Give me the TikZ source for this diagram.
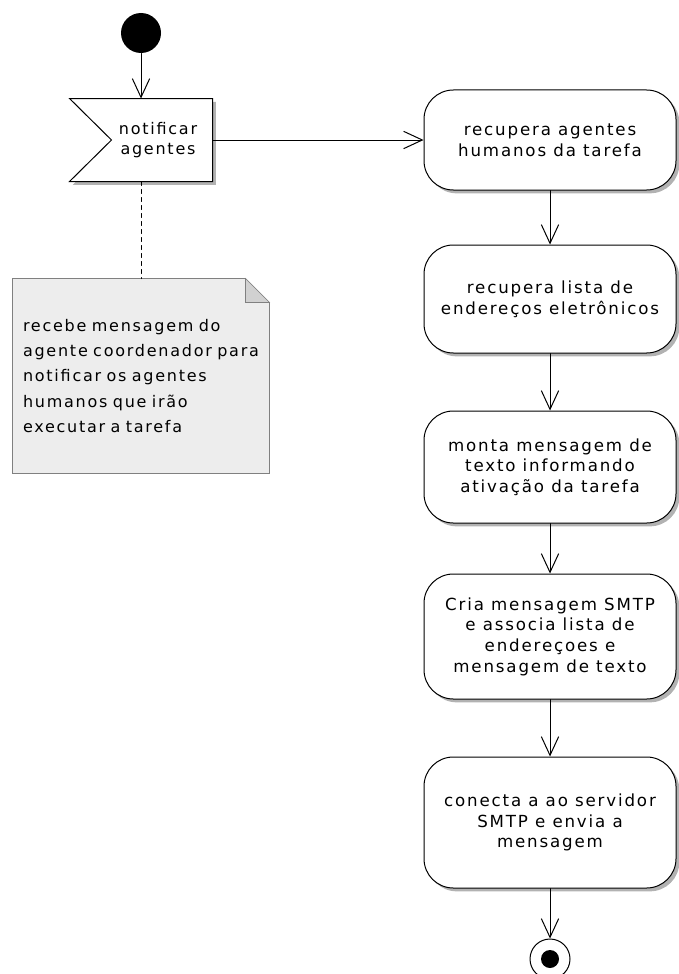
\documentclass[tikz,border=0pt]{standalone}
\usepackage{fontspec}
\setmainfont{DejaVu Sans}[LetterSpace=11]
\usetikzlibrary{arrows.meta,shadows,calc,backgrounds}

\begin{document}
\begin{tikzpicture}[x=0.75pt,y=-0.75pt,>={Straight Barb[length=14pt,width=13pt]},
  font=\fontsize{12.5}{15.5}\selectfont,line width=0.75pt,line cap=round,
  shade/.style={drop shadow={shadow xshift=2.5pt,shadow yshift=-2.5pt,fill=black!30,opacity=1}},
  action/.style={draw,fill=white,rounded corners=22pt,minimum width=189pt,align=center,shade},
  start/.style={circle,fill=black,minimum size=30pt,inner sep=0pt},
  stop/.style={circle,draw,fill=white,minimum size=30pt,inner sep=0pt},
  flag/.style={minimum width=106.5pt,minimum height=61.5pt,inner sep=0pt},
  notetext/.style={minimum width=192pt,minimum height=145.5pt,text width=177pt,
    inner sep=7.5pt,align=left,font=\fontsize{12}{19}\selectfont}]
\useasboundingbox (0,0) rectangle (678,974);
% start and signal
\node[start] (init) at (141,33) {};
\node[flag] (notif) at (141,140) {};
\filldraw[fill=white,shade] (notif.north west) -- (notif.north east) -- (notif.south east)
  -- (notif.south west) -- ($(notif.west)+(42,0)$) -- cycle;
\node[align=center,font=\fontsize{12}{15}\selectfont] (notiflbl) at (158,140) {notificar\\agentes};
\draw[->] (init) -- (notif);
% note
\node[notetext] (note) at (141,376) {recebe mensagem do\\agente coordenador para\\notificar os agentes\\humanos que irão\\executar a tarefa};
\begin{scope}[on background layer]
\filldraw[fill=black!7,draw=black!50] (note.north west) -- ([xshift=-18pt]note.north east)
  -- ([yshift=-18pt]note.north east) -- (note.south east) -- (note.south west) -- cycle;
\filldraw[fill=black!18,draw=black!50] ([xshift=-18pt]note.north east)
  -- ([xshift=-18pt,yshift=-18pt]note.north east) -- ([yshift=-18pt]note.north east) -- cycle;
\end{scope}
\draw[dash pattern=on 3pt off 3pt] (notif.south) -- (note.north);
% actions
\node[action,minimum height=75pt] (recag) at (550,140) {recupera agentes\\humanos da tarefa};
\node[action,minimum height=81pt] (reclista) at (550,299) {recupera lista de\\endereços eletrônicos};
\node[action,minimum height=84pt] (monta) at (550,467) {monta mensagem de\\texto informando\\ativação da tarefa};
\node[action,minimum height=93.75pt] (cria) at (550,636.5) {Cria mensagem SMTP\\e associa lista de\\endereçoes e\\mensagem de texto};
\node[action,minimum height=98.25pt] (conecta) at (550,822.5) {conecta a ao servidor\\SMTP e envia a\\mensagem};
\node[stop] (fim) at (550,959) {};
\fill (fim.center) circle (6.75pt);
\draw[->] (notif.east) -- (recag.west);
\draw[->] (recag) -- (reclista);
\draw[->] (reclista) -- (monta);
\draw[->] (monta) -- (cria);
\draw[->] (cria) -- (conecta);
\draw[->] (conecta) -- (fim);
\end{tikzpicture}
\end{document}
